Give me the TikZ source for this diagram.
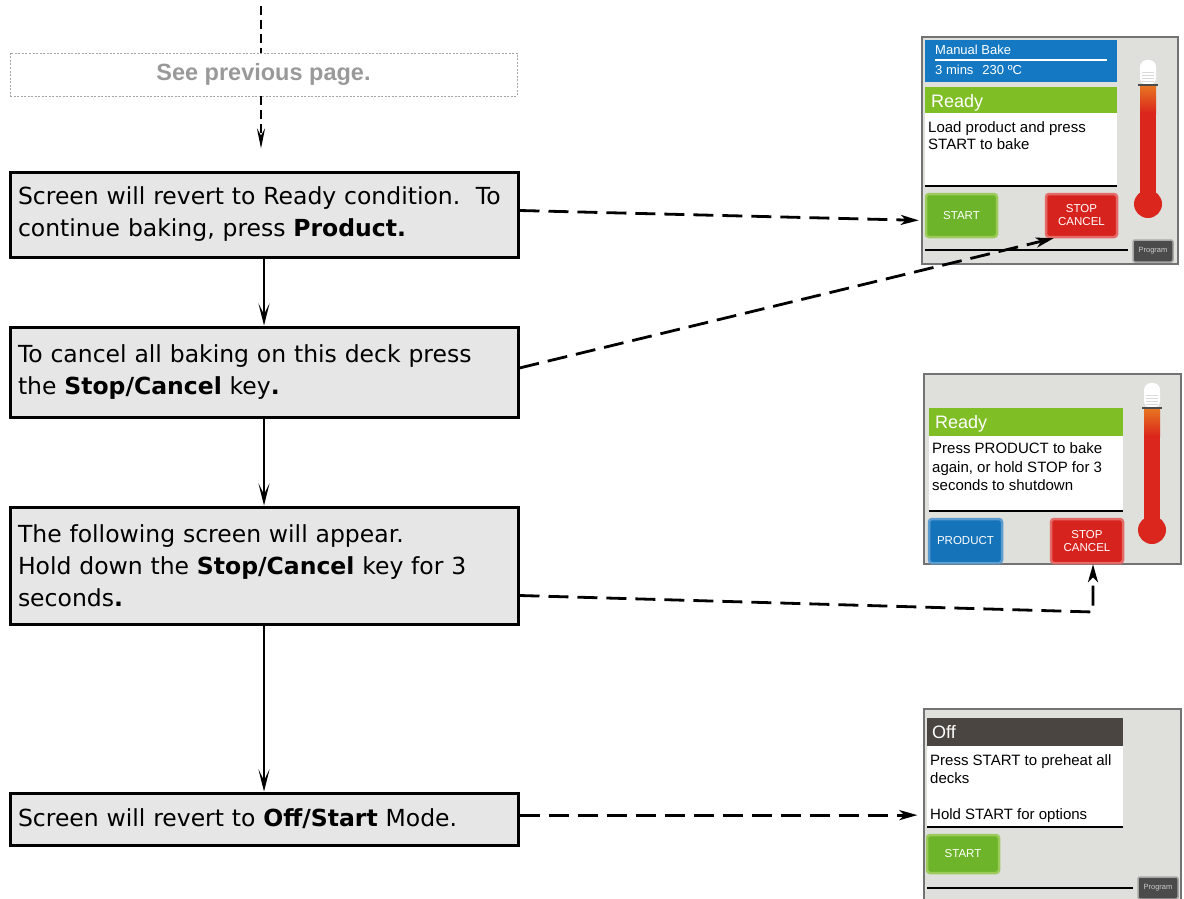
\documentclass[tikz,border=0pt]{standalone}
\usepackage{fontspec}
\setmainfont{DejaVu Sans}
\newfontfamily\scrfont{Liberation Sans}
\usetikzlibrary{arrows.meta,positioning}
\definecolor{boxgray}{HTML}{E6E6E6}
\definecolor{panelgray}{HTML}{DFDFDB}
\definecolor{scrblue}{HTML}{1479C2}
\definecolor{scrgreen}{HTML}{80BE26}
\definecolor{scrdark}{HTML}{4A4541}
\definecolor{btngreen}{HTML}{6DB42A}
\definecolor{btngreenlt}{HTML}{9CCB5C}
\definecolor{btnred}{HTML}{D7231E}
\definecolor{btnredlt}{HTML}{E46A68}
\definecolor{btnblue}{HTML}{1573BA}
\definecolor{btnbluelt}{HTML}{5B9BD0}
\definecolor{progray}{HTML}{4B4B4B}
\definecolor{thermred}{HTML}{DA261C}
\definecolor{thermorange}{HTML}{E87722}
\tikzset{
  stepbox/.style={draw,line width=3pt,fill=boxgray,minimum width=508pt,inner xsep=8pt,
    text width=492pt,align=left,font=\fontsize{23.5}{32}\selectfont},
  flowarrow/.style={line width=2pt,-{Stealth[length=22pt,width=11pt,inset=11pt]}},
  flowdash/.style={line width=2.8pt,dash pattern=on 20pt off 9pt,
    -{Stealth[length=18pt,width=10pt,inset=5pt]}},
  topdash/.style={line width=2.2pt,dash pattern=on 9pt off 5pt},
  panel/.style={draw=black!55,line width=1.2pt,fill=panelgray,inner sep=0pt},
  scrbtn/.style={rounded corners=3pt,line width=2.5pt,inner sep=0pt,text=white,align=center,
    font=\scrfont\fontsize{11.5}{13}\selectfont},
  progbtn/.style={draw=black!35,line width=1.5pt,fill=progray,rounded corners=2pt,inner sep=0pt,
    minimum width=40pt,minimum height=22pt,text=white!80!black,font=\scrfont\fontsize{7.5}{8}\selectfont},
  scrtxt/.style={anchor=base west,inner sep=0pt,font=\scrfont\fontsize{15}{17}\selectfont},
  scrhead/.style={scrtxt,text=white,font=\scrfont\fontsize{18}{20}\selectfont}
}
\begin{document}
\begin{tikzpicture}[x=1pt,y=-1pt]
\useasboundingbox (0,0) rectangle (1184,899);
% screens
\node[panel,minimum width=256pt,minimum height=227pt] (pan1) at (1050,150.5) {};
\node[panel,minimum width=257pt,minimum height=190pt] (pan2) at (1052.5,469) {};
\node[panel,minimum width=257pt,minimum height=201pt] (pan3) at (1052.5,809.5) {};
\fill[scrblue] (925,40) rectangle (1117,82);
\draw[white,line width=1.5pt] (935,60) -- (1107,60);
\node[scrtxt,text=white,font=\scrfont\fontsize{13}{15}\selectfont] (mb) at (935,55) {Manual Bake};
\node[scrtxt,text=white,font=\scrfont\fontsize{13}{15}\selectfont] (tt) at (935,75) {3 mins\hspace{9pt}230 ºC};
\foreach \ax/\ay/\bx/\by/\c in {925/87/1117/113/scrgreen,929/408/1123/436/scrgreen,927/718/1123/746/scrdark}
  \fill[\c] (\ax,\ay) rectangle (\bx,\by);
\foreach \ax/\ay/\bx/\by in {925/113/1117/185,929/436/1123/510,927/746/1123/826}{
  \fill[white] (\ax,\ay) rectangle (\bx,\by);
  \draw[line width=2pt] (\ax,\by+1) -- (\bx,\by+1);
}
\draw[line width=2pt] (925,250) -- (1128,250);
\draw[line width=2pt] (927,888) -- (1133,888);
\node[scrhead] (ready1) at (931,107) {Ready};
\node[scrhead] (ready2) at (935,428) {Ready};
\node[scrhead] (off3) at (932,738) {Off};
\foreach \t/\xx/\yy in {{Load product and press}/928/132,{START to bake}/928/149,
  {Press PRODUCT to bake}/932/453,{again, or hold STOP for 3}/932/472,{seconds to shutdown}/932/490,
  {Press START to preheat all}/930/765,{decks}/930/783,{Hold START for options}/930/819}
  \node[scrtxt] (txt\yy) at (\xx,\yy) {\t};
\node[scrbtn,draw=btngreenlt,fill=btngreen,minimum width=71pt,minimum height=43pt] (start1) at (961.5,215.5) {START};
\node[scrbtn,draw=btnredlt,fill=btnred,minimum width=71pt,minimum height=43pt] (stop1) at (1081.5,215.5) {STOP\\CANCEL};
\node[scrbtn,draw=btnbluelt,fill=btnblue,minimum width=73pt,minimum height=44pt] (prod2) at (965.5,541) {PRODUCT};
\node[scrbtn,draw=btnredlt,fill=btnred,minimum width=72pt,minimum height=44pt] (stop2) at (1087,541) {STOP\\CANCEL};
\node[scrbtn,draw=btngreenlt,fill=btngreen,minimum width=72pt,minimum height=38pt] (start3) at (963,854) {START};
\node[progbtn] (prog1) at (1153,251) {Program};
\node[progbtn] (prog3) at (1158,888) {Program};
\foreach \tx/\ty/\tb/\by in {1140/60/85/204,1144/383/408/530}{
  \fill[white,rounded corners=7pt] (\tx,\tb) rectangle (\tx+16,\ty);
  \foreach \k in {1,...,4} \draw[black!15,line width=0.6pt] (\tx+2,\ty+9+3*\k) -- (\tx+14,\ty+9+3*\k);
  \fill[thermred] (\tx,\tb) rectangle (\tx+16,\by);
  \shade[top color=thermorange,bottom color=thermred] (\tx,\tb) rectangle (\tx+16,\tb+28);
  \fill[thermred] (\tx+8,\by) circle (14);
  \draw[black!70,line width=2pt] (\tx-2,\tb) -- (\tx+18,\tb);
}
% flow
\coordinate (topend) at (261,6);
\node[draw=gray!70,line width=0.8pt,dash pattern=on 2pt off 1.5pt,minimum width=507pt,minimum height=43pt,
  text=black!40,font=\scrfont\bfseries\fontsize{23.5}{26}\selectfont] (prev) at (263.5,74.5) {\raisebox{-2pt}{See previous page.}};
\node[stepbox,minimum height=85pt] (b1) at (264,214.5) {Screen will revert to Ready condition.\ \ To\\continue baking, press \textbf{Product.}};
\node[stepbox,minimum height=90pt] (b2) at (264,372) {To cancel all baking on this deck press\\the \textbf{Stop/Cancel} key\textbf{.}};
\node[stepbox,minimum height=117pt] (b3) at (264,565.5) {The following screen will appear.\\Hold down the \textbf{Stop/Cancel} key for 3\\seconds\textbf{.}};
\node[stepbox,minimum height=52pt] (b4) at (264,819) {Screen will revert to \textbf{Off/Start} Mode.};
\draw[topdash] (topend) -- (topend |- prev.north);
\draw[topdash,-{Stealth[length=20pt,width=8pt,inset=7pt]},shorten >=22pt] (topend |- prev.south) -- (topend |- b1.north);
\draw[flowarrow] (b1) -- (b2);
\draw[flowarrow] (b2) -- (b3);
\draw[flowarrow] (b3) -- (b4);
\coordinate (turn3) at (1093,612);
\draw[flowdash,shorten >=6pt] ([yshift=4pt]b1.east) -- ([yshift=-5pt]start1.west);
\draw[flowdash] ([yshift=4pt]b2.east) -- ([xshift=9pt]stop1.south west);
\draw[flowdash] ([yshift=-30pt]b3.east) -- (turn3) -- (turn3 |- stop2.south);
\draw[flowdash,shorten >=6pt] (b4.east |- txt819.west) -- (pan3.west |- txt819.west);
\end{tikzpicture}
\end{document}
